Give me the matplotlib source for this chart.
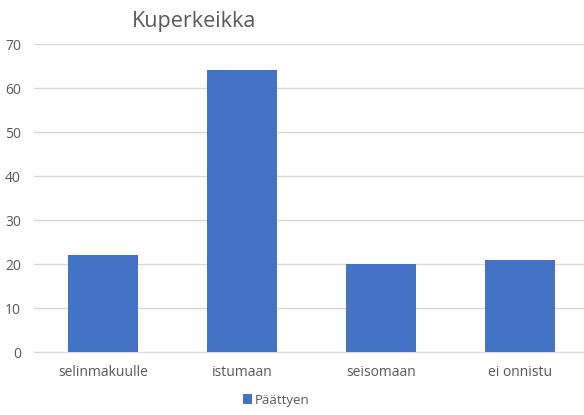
import matplotlib.pyplot as plt
import numpy as np

categories = ['selinmakuulle', 'istumaan', 'seisomaan', 'ei onnistu']
values = [22, 64, 20, 21]
series_name = 'Päättyen'
title = 'Kuperkeikka'
yticks = [0, 10, 20, 30, 40, 50, 60, 70]

plt.rcParams['font.family'] = ['Open Sans', 'DejaVu Sans']

fig = plt.figure(figsize=(5.84, 4.15), dpi=100)
ax = fig.add_axes([33.5 / 584, 63 / 415, 556 / 584, 308 / 415])

x = np.arange(len(categories))
ax.bar(x, values, width=0.5, color='#4472C4', label=series_name, zorder=3)

ax.set_xlim(-0.5, len(categories) - 0.5)
ax.set_ylim(0, 70)
ax.set_yticks(yticks)
ax.set_xticks(x)
ax.set_xticklabels(categories)
ax.yaxis.grid(True, color='#d9d9d9', linewidth=1, zorder=0)
for s in ['top', 'right', 'left']:
    ax.spines[s].set_visible(False)
ax.spines['bottom'].set_color('#d9d9d9')
ax.tick_params(axis='both', length=0, colors='#595959', labelsize=10)
ax.tick_params(axis='y', pad=9)
ax.tick_params(axis='x', pad=9)

fig.text(194 / 584, 1 - 22 / 415, title, ha='center', va='center',
         fontsize=15.5, color='#595959')

fig.legend(loc='center', bbox_to_anchor=(276 / 584, 1 - 400 / 415), frameon=False,
           fontsize=9.5, handlelength=0.7, handleheight=0.7, handletextpad=0.2,
           labelcolor='#595959')

fig.savefig('out.png', dpi=100)
